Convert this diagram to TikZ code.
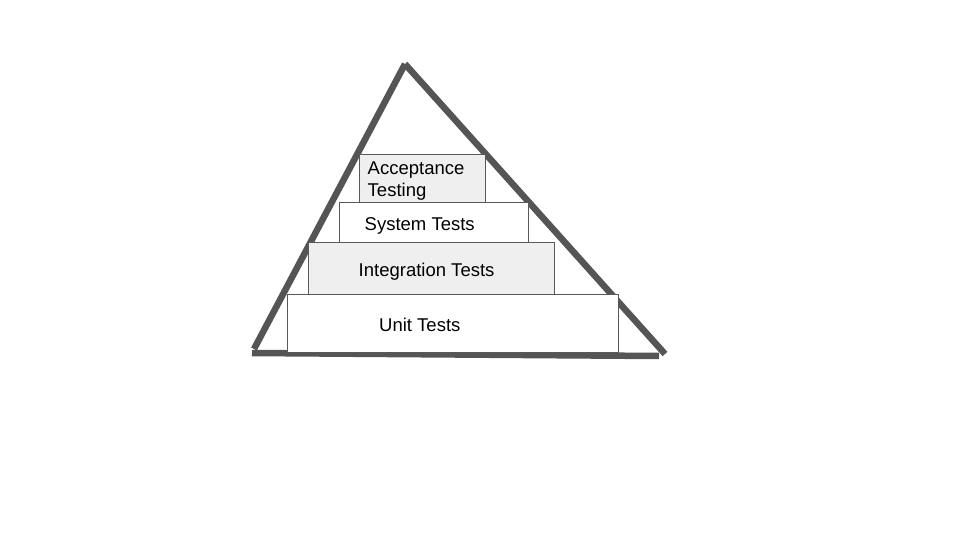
\documentclass[tikz,border=0pt]{standalone}
\usepackage{fontspec}
\setmainfont{Liberation Sans}
\usepackage{tkz-euclide}

\definecolor{edgegray}{HTML}{555555}
\definecolor{stepgray}{HTML}{EFEFEF}
\tikzset{
  layerbox/.style={draw=black!65, line width=1pt, fill=white,
    rectangle, inner sep=0pt, anchor=north west},
  layershade/.style={layerbox, fill=stepgray},
  layertext/.style={font=\fontsize{18.5}{22}\selectfont, inner sep=0pt,
    anchor=base west}
}

\begin{document}
\begin{tikzpicture}[x=1pt,y=-1pt]
  \useasboundingbox (0,0) rectangle (960,540);
  \tkzDefPoints{405/64/T,254/349/L,665/354/R,252/353/P,659/356/Q}
  \tkzDrawSegments[line width=6.5pt,line cap=butt,color=edgegray](T,L T,R P,Q)

  \node[layershade, minimum width=126.5pt, minimum height=48pt] (accept) at (358.5,154.5) {};
  \node[layerbox, minimum width=189pt, minimum height=40pt] (system) at (339.3,202.3) {};
  \node[layershade, minimum width=246pt, minimum height=52pt] (integ) at (307.5,242.3) {};
  \node[layerbox, minimum width=331pt, minimum height=57.5pt] (unit) at (286.5,294.3) {};

  \node[layertext, align=left] (accepttxt) at (367.5,196.5) {Acceptance\\Testing};
  \node[layertext] (systemtxt) at (364.5,230) {System Tests};
  \node[layertext] (integtxt) at (358.5,276) {Integration Tests};
  \node[layertext] (unittxt) at (379,331) {Unit Tests};
\end{tikzpicture}
\end{document}
